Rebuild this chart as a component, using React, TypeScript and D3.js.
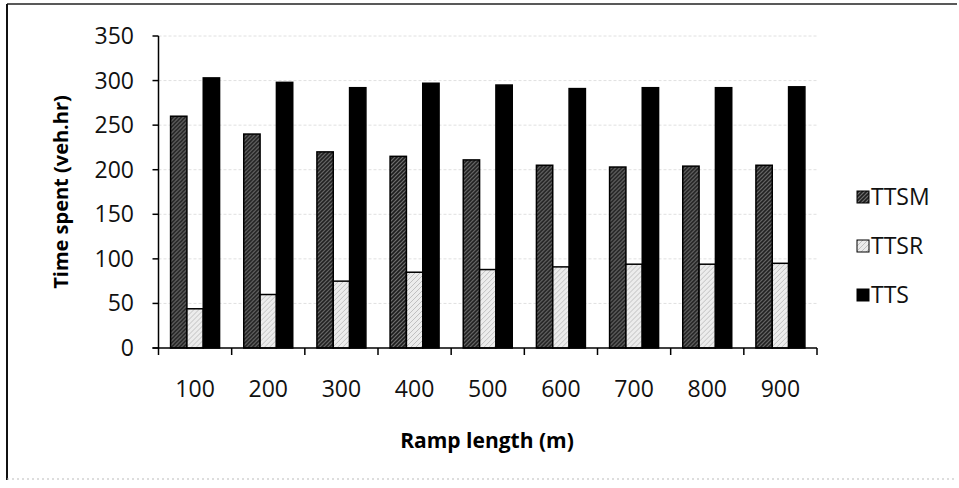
import { useEffect, useRef } from 'react'
import * as d3 from 'd3'

const rampLengths = ['100', '200', '300', '400', '500', '600', '700', '800', '900']
const seriesNames = ['TTSM', 'TTSR', 'TTS']
const ttsm = [260, 240, 220, 215, 211, 205, 203, 204, 205]
const ttsr = [44, 60, 75, 85, 88, 91, 94, 94, 95]
const tts = [303, 298, 292, 297, 295, 291, 292, 292, 293]
const yTicks = [0, 50, 100, 150, 200, 250, 300, 350]

const fills: Record<string, string> = {
  TTSM: 'url(#hatchDark)',
  TTSR: 'url(#hatchLight)',
  TTS: '#000',
}

export default function App() {
  const svgRef = useRef<SVGSVGElement>(null)

  useEffect(() => {
    if (!svgRef.current) return
    const svg = d3.select(svgRef.current)
    svg.selectAll('*').remove()

    const width = 959
    const height = 488
    const font = '"Open Sans", sans-serif'

    svg.append('rect').attr('width', width).attr('height', height).attr('fill', '#fff')

    // hatch patterns
    const defs = svg.append('defs')
    const dark = defs.append('pattern')
      .attr('id', 'hatchDark')
      .attr('patternUnits', 'userSpaceOnUse')
      .attr('width', 4).attr('height', 4)
    dark.append('rect').attr('width', 4).attr('height', 4).attr('fill', '#6e6e6e')
    dark.append('path').attr('d', 'M-1,1 l2,-2 M0,4 l4,-4 M3,5 l2,-2')
      .attr('stroke', '#1e1e1e').attr('stroke-width', 1.6)

    const light = defs.append('pattern')
      .attr('id', 'hatchLight')
      .attr('patternUnits', 'userSpaceOnUse')
      .attr('width', 5).attr('height', 5)
    light.append('rect').attr('width', 5).attr('height', 5).attr('fill', '#ececec')
    light.append('path').attr('d', 'M-1,1 l2,-2 M0,5 l5,-5 M4,6 l2,-2')
      .attr('stroke', '#c0c0c0').attr('stroke-width', 1)

    // outer frame
    svg.append('line').attr('x1', 7).attr('x2', 957).attr('y1', 4).attr('y2', 4)
      .attr('stroke', '#222').attr('stroke-width', 1.5)
    svg.append('line').attr('x1', 7).attr('x2', 7).attr('y1', 4).attr('y2', 480)
      .attr('stroke', '#111').attr('stroke-width', 2)
    svg.append('line').attr('x1', 7).attr('x2', 957).attr('y1', 479).attr('y2', 479)
      .attr('stroke', '#bbb').attr('stroke-width', 1).attr('stroke-dasharray', '2,3')

    const left = 158.5
    const right = 817
    const top = 36
    const bottom = 348

    const y = d3.scaleLinear().domain([0, 350]).range([bottom, top])
    const x0 = d3.scaleBand().domain(rampLengths).range([left, right])
    const x1 = d3.scaleBand().domain(seriesNames).range([0, x0.bandwidth()])
      .paddingInner(0).paddingOuter(0.74)

    // gridlines
    svg.append('g').selectAll('line')
      .data(yTicks.filter(d => d > 0))
      .enter().append('line')
      .attr('x1', left).attr('x2', right)
      .attr('y1', d => y(d)).attr('y2', d => y(d))
      .attr('stroke', '#e0e0e0').attr('stroke-width', 1)
      .attr('stroke-dasharray', '3,2')

    const values: Record<string, number[]> = { TTSM: ttsm, TTSR: ttsr, TTS: tts }

    const groups = svg.append('g').selectAll('g')
      .data(rampLengths)
      .enter().append('g')
      .attr('transform', d => `translate(${x0(d)},0)`)

    groups.selectAll('rect')
      .data((_, i) => seriesNames.map(s => ({ key: s, value: values[s][i] })))
      .enter().append('rect')
      .attr('x', d => x1(d.key)!)
      .attr('y', d => y(d.value))
      .attr('width', x1.bandwidth())
      .attr('height', d => bottom - y(d.value))
      .attr('fill', d => fills[d.key])
      .attr('stroke', '#000')
      .attr('stroke-width', 1.5)

    // y axis
    const yAxis = svg.append('g')
    yAxis.append('line').attr('x1', left).attr('x2', left).attr('y1', top).attr('y2', bottom)
      .attr('stroke', '#000').attr('stroke-width', 1.5)
    yAxis.selectAll('line.tick')
      .data(yTicks)
      .enter().append('line')
      .attr('class', 'tick')
      .attr('x1', left - 6).attr('x2', left)
      .attr('y1', d => y(d)).attr('y2', d => y(d))
      .attr('stroke', '#000').attr('stroke-width', 1.5)
    yAxis.selectAll('text')
      .data(yTicks)
      .enter().append('text')
      .attr('x', 134)
      .attr('y', d => y(d))
      .attr('dy', '0.35em')
      .attr('text-anchor', 'end')
      .attr('font-family', font)
      .attr('font-size', 23)
      .attr('fill', '#111')
      .text(d => d)

    // x axis
    const xAxis = svg.append('g')
    xAxis.append('line').attr('x1', left - 6).attr('x2', right).attr('y1', bottom).attr('y2', bottom)
      .attr('stroke', '#000').attr('stroke-width', 1.5)
    const edges = rampLengths.map(d => x0(d)!).concat([right])
    xAxis.selectAll('line.tick')
      .data(edges)
      .enter().append('line')
      .attr('class', 'tick')
      .attr('x1', d => d).attr('x2', d => d)
      .attr('y1', bottom).attr('y2', bottom + 7)
      .attr('stroke', '#000').attr('stroke-width', 1.5)
    xAxis.selectAll('text')
      .data(rampLengths)
      .enter().append('text')
      .attr('x', d => x0(d)! + x0.bandwidth() / 2)
      .attr('y', 397)
      .attr('text-anchor', 'middle')
      .attr('font-family', font)
      .attr('font-size', 23)
      .attr('fill', '#111')
      .text(d => d)

    // axis titles
    svg.append('text')
      .attr('x', 487).attr('y', 448)
      .attr('text-anchor', 'middle')
      .attr('font-family', font)
      .attr('font-weight', 'bold')
      .attr('font-size', 21)
      .text('Ramp length (m)')

    svg.append('text')
      .attr('transform', 'translate(68,192) rotate(-90)')
      .attr('text-anchor', 'middle')
      .attr('font-family', font)
      .attr('font-weight', 'bold')
      .attr('font-size', 20)
      .text('Time spent (veh.hr)')

    // legend
    const legend = svg.append('g').selectAll('g')
      .data(seriesNames)
      .enter().append('g')
      .attr('transform', (_, i) => `translate(857,${197 + i * 49})`)
    legend.append('rect')
      .attr('x', 0).attr('y', -6)
      .attr('width', 12).attr('height', 12)
      .attr('fill', d => fills[d])
      .attr('stroke', '#000').attr('stroke-width', 1)
    legend.append('text')
      .attr('x', 14)
      .attr('dy', '0.35em')
      .attr('font-family', font)
      .attr('font-size', 23)
      .attr('fill', '#111')
      .text(d => d)
  }, [])

  return (
    <svg
      ref={svgRef}
      width={959}
      height={488}
      style={{ position: 'absolute', left: 0, top: 0 }}
    />
  )
}
